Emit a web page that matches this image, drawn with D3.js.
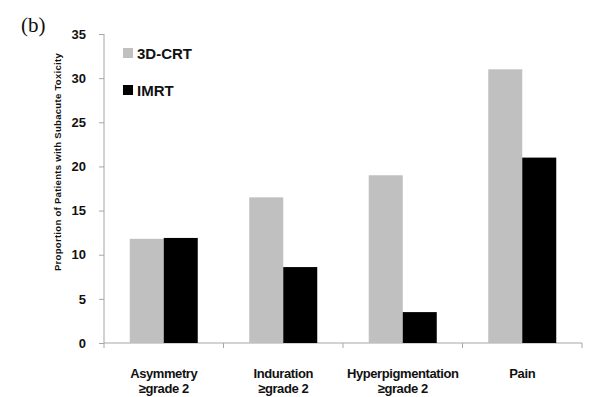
<!DOCTYPE html>
<html><head><meta charset="utf-8">
<script src="https://cdn.jsdelivr.net/npm/d3@7"></script>
<style>body{margin:0;background:#fff}svg{display:block}</style>
</head><body>
<script>
const categories = [["Asymmetry","≥grade 2"],["Induration","≥grade 2"],["Hyperpigmentation","≥grade 2"],["Pain"]];
const seriesNames = ["3D-CRT","IMRT"];
const crt = [11.8, 16.5, 19.0, 31.0];
const imrt = [11.9, 8.6, 3.5, 21.0];
const yTicks = [0,5,10,15,20,25,30,35];
const colors = ["#c0c0c0","#000000"];

const W=590,H=397;
const svg=d3.select("body").append("svg").attr("width",W).attr("height",H);
const FONT="'Liberation Sans Narrow','Liberation Sans',Arial,sans-serif";
const x=d3.scaleBand().domain(d3.range(categories.length)).range([104,582]).padding(0);
const y=d3.scaleLinear().domain([0,35]).range([343,34]);
const barW=34;
const xs=d3.scaleBand().domain([0,1]).range([0,barW*2]);

// axes
const axisColor="#a6a6a6";
const yA=svg.append("g").attr("transform","translate(104,0)").call(d3.axisLeft(y).tickValues(yTicks).tickSize(5).tickFormat(d3.format("d")));
yA.select(".domain").attr("stroke",axisColor).attr("d","M0,34V343");
yA.selectAll(".tick line").attr("stroke",axisColor);
yA.selectAll(".tick text").attr("font-family",FONT).attr("font-weight","bold").attr("font-size",13).attr("fill","#111").attr("x",-18);

const xA=svg.append("g").attr("transform","translate(0,343)");
xA.append("line").attr("x1",104).attr("x2",582).attr("stroke",axisColor);
const bounds=d3.range(categories.length+1).map(i=>i<categories.length?x(i):x(categories.length-1)+x.bandwidth());
xA.selectAll("line.t").data(bounds).join("line").attr("class","t").attr("x1",d=>d).attr("x2",d=>d).attr("y1",0).attr("y2",5).attr("stroke",axisColor);

// bars
const data=categories.map((c,i)=>[crt[i],imrt[i]]);
const g=svg.append("g");
data.forEach((vals,i)=>{
  const x0=x(i)+x.bandwidth()/2-barW;
  g.selectAll(null).data(vals).join("rect")
    .attr("x",(d,j)=>x0+xs(j)).attr("width",xs.bandwidth())
    .attr("y",d=>y(d)).attr("height",d=>y(0)-y(d))
    .attr("fill",(d,j)=>colors[j]);
});

// x labels
categories.forEach((lines,i)=>{
  const cx=x(i)+x.bandwidth()/2;
  const t=svg.append("text").attr("x",cx).attr("y",378).attr("text-anchor","middle")
    .attr("font-family",FONT).attr("font-weight","bold").attr("font-size",13).attr("fill","#111").attr("letter-spacing",-0.4);
  lines.forEach((l,k)=>t.append("tspan").attr("x",cx).attr("dy",k===0?0:15).text(l));
});

// y title
svg.append("text").attr("transform","translate(61,162) rotate(-90)").attr("text-anchor","middle")
  .attr("font-family",FONT).attr("font-weight","bold").attr("font-size",9.5).attr("fill","#111").attr("letter-spacing",0.3)
  .text("Proportion of Patients with Subacute Toxicity");

// legend
seriesNames.forEach((s,i)=>{
  const ly=48+i*37;
  svg.append("rect").attr("x",123).attr("y",ly).attr("width",10).attr("height",10).attr("fill",colors[i]);
  svg.append("text").attr("x",137).attr("y",ly+11).attr("font-family",FONT).attr("font-weight","bold").attr("font-size",15).attr("fill","#111").text(s);
});

// panel label
svg.append("text").attr("x",21).attr("y",32).attr("font-family","'Liberation Serif','Times New Roman',serif").attr("font-size",21).attr("fill","#111").text("(b)");
</script>
</body></html>
